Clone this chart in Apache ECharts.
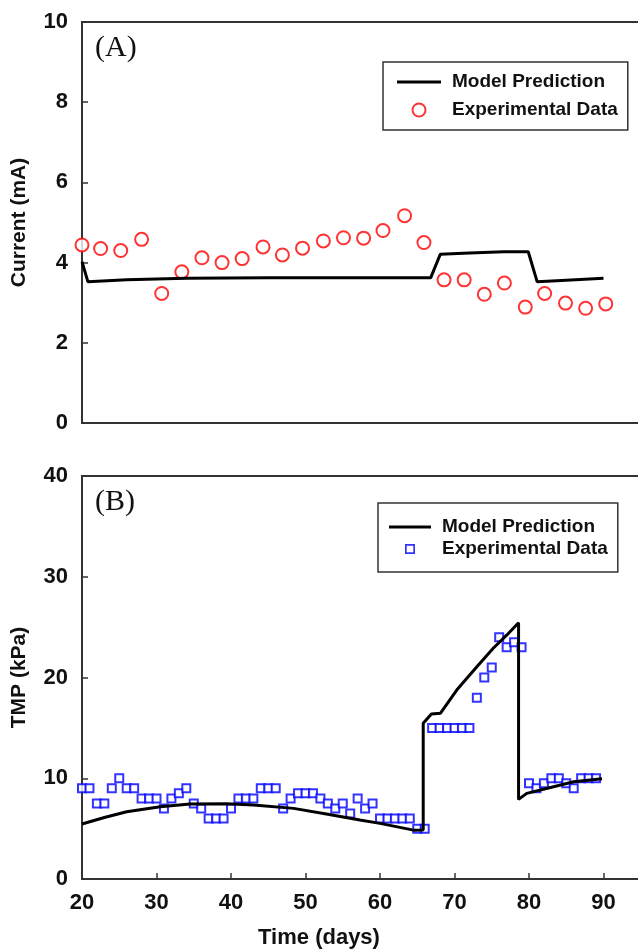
<!DOCTYPE html>
<html>
<head>
<meta charset="utf-8">
<script src="https://cdn.jsdelivr.net/npm/echarts@6/dist/echarts.min.js"></script>
<style>
  html, body { margin: 0; padding: 0; background: #fff; }
  #chart { width: 638px; height: 952px; }
</style>
</head>
<body>
<div id="chart"></div>
<script>
// panel A: current
var currentDays = [20, 22.5, 25.2, 28, 30.7, 33.4, 36.1, 38.8, 41.5, 44.3, 46.9, 49.6, 52.4, 55.1,
  57.8, 60.4, 63.3, 65.9, 68.6, 71.3, 74, 76.7, 79.5, 82.1, 84.9, 87.6, 90.3]
var currentExp = [4.44, 4.35, 4.30, 4.58, 3.23, 3.77, 4.12, 4.00, 4.10, 4.39, 4.19, 4.36, 4.54, 4.62,
  4.61, 4.80, 5.17, 4.50, 3.57, 3.57, 3.21, 3.49, 2.89, 3.23, 2.99, 2.86, 2.97]
var currentModelDays = [20, 20.8, 26, 34, 45, 55, 66.8, 68.1, 72, 76.6, 79.9, 81.1, 85, 90]
var currentModel = [4.02, 3.52, 3.57, 3.61, 3.62, 3.62, 3.62, 4.21, 4.24, 4.27, 4.27, 3.52, 3.56, 3.61]

// panel B: TMP
var tmpDays = []
for (var d = 20; d <= 89; d++) tmpDays.push(d)
var tmpExp = [9, 9, 7.5, 7.5, 9, 10, 9, 9, 8, 8,
  8, 7, 8, 8.5, 9, 7.5, 7, 6, 6, 6,
  7, 8, 8, 8, 9, 9, 9, 7, 8, 8.5,
  8.5, 8.5, 8, 7.5, 7, 7.5, 6.5, 8, 7, 7.5,
  6, 6, 6, 6, 6, 5, 5, 15, 15, 15,
  15, 15, 15, 18, 20, 21, 24, 23, 23.5, 23,
  9.5, 9, 9.5, 10, 10, 9.5, 9, 10, 10, 10]
var tmpModelDays = [20, 23, 26, 30.5, 34.5, 39.4, 43, 48.4, 52.8, 57.3, 60, 64.5, 65.8,
  65.8, 66.9, 68.1, 70.3, 73, 75.2, 77, 78.6, 78.6, 79.7, 83.3, 86, 89.8]
var tmpModel = [5.46, 6.1, 6.68, 7.17, 7.44, 7.46, 7.34, 7.01, 6.45, 5.85, 5.52, 4.85, 4.86,
  15.45, 16.37, 16.44, 18.75, 21.06, 22.9, 24.2, 25.43, 7.9, 8.5, 9.16, 9.65, 9.95]

var currentTicks = [0, 2, 4, 6, 8, 10]
var tmpTicks = [0, 10, 20, 30, 40]

function pairs(xs, ys) {
  return xs.map(function (x, i) { return [x, ys[i]] })
}

var chart = echarts.init(document.getElementById('chart'))
var font = 'Liberation Sans, Arial, sans-serif'
var axisColor = '#333'
// legend icons: a thick line sample and a hollow square
var lineIcon = 'path://M0,0 H44 V3 H0 Z'
var squareIcon = 'path://M0,0 H10 V10 H0 Z M1.7,1.7 V8.3 H8.3 V1.7 Z'

function xAxisOpt(idx, labels) {
  return {
    type: 'value', gridIndex: idx, min: 20, max: 100, interval: 10,
    axisLine: { lineStyle: { color: axisColor, width: 2 } },
    axisTick: { show: labels, inside: true, length: 6, lineStyle: { color: axisColor, width: 1.5 } },
    axisLabel: {
      show: labels, margin: 13, color: '#111', fontFamily: font, fontWeight: 'bold', fontSize: 22,
      showMaxLabel: false
    },
    splitLine: { show: false }
  }
}
function yAxisOpt(idx, ticks, name) {
  return {
    type: 'value', gridIndex: idx, min: ticks[0], max: ticks[ticks.length - 1],
    interval: ticks[1] - ticks[0],
    name: name, nameLocation: 'middle', nameGap: 52, nameRotate: 90,
    nameTextStyle: { color: '#111', fontFamily: font, fontWeight: 'bold', fontSize: 21 },
    axisLine: { lineStyle: { color: axisColor, width: 2 } },
    axisTick: { inside: true, length: 6, lineStyle: { color: axisColor, width: 1.5 } },
    axisLabel: { margin: 14, color: '#111', fontFamily: font, fontWeight: 'bold', fontSize: 22 },
    splitLine: { show: false }
  }
}

chart.setOption({
  animation: false,
  grid: [
    { left: 82, width: 596, top: 22, height: 401, outerBoundsMode: 'none', containLabel: false,
      show: true, borderColor: axisColor, borderWidth: 2 },
    { left: 82, width: 596, top: 476, height: 403, outerBoundsMode: 'none', containLabel: false,
      show: true, borderColor: axisColor, borderWidth: 2 }
  ],
  xAxis: [xAxisOpt(0, false), xAxisOpt(1, true)],
  yAxis: [yAxisOpt(0, currentTicks, 'Current (mA)'), yAxisOpt(1, tmpTicks, 'TMP (kPa)')],
  legend: [
    {
      data: [
        { name: 'Model Prediction', icon: lineIcon, itemStyle: { color: '#000', borderWidth: 0 } },
        { name: 'Experimental Data' }
      ],
      orient: 'vertical', left: 383, top: 62,
      padding: [10, 10, 10, 14], itemGap: 8,
      itemWidth: 44, itemHeight: 13,
      borderColor: '#333', borderWidth: 1.5,
      textStyle: { color: '#111', fontFamily: font, fontWeight: 'bold', fontSize: 19, lineHeight: 20, padding: [0, 0, 0, 6] }
    },
    {
      data: [
        { name: 'Model Prediction B', icon: lineIcon, itemStyle: { color: '#000', borderWidth: 0 } },
        { name: 'Experimental Data B', icon: squareIcon, itemStyle: { color: '#0000ff', borderWidth: 0 } }
      ],
      orient: 'vertical', left: 378, top: 503,
      padding: [14, 10, 13, 11], itemGap: 2,
      itemWidth: 42, itemHeight: 10,
      borderColor: '#333', borderWidth: 1.5,
      formatter: function (n) { return n.replace(' B', '') },
      textStyle: { color: '#111', fontFamily: font, fontWeight: 'bold', fontSize: 19, lineHeight: 20, padding: [0, 0, 0, 6] }
    }
  ],
  graphic: [
    { type: 'text', left: 95, top: 33, style: { text: '(A)', font: '30px "Liberation Serif", serif', fill: '#111' } },
    { type: 'text', left: 95, top: 487, style: { text: '(B)', font: '30px "Liberation Serif", serif', fill: '#111' } },
    { type: 'text', left: 'center', top: 927, style: { text: 'Time (days)', font: 'bold 22px "Liberation Sans", Arial, sans-serif', fill: '#111' } }
  ],
  series: [
    {
      name: 'Model Prediction', type: 'line', xAxisIndex: 0, yAxisIndex: 0,
      data: pairs(currentModelDays, currentModel), symbol: 'none',
      lineStyle: { color: '#000', width: 3 }, itemStyle: { color: '#000' }
    },
    {
      name: 'Experimental Data', type: 'scatter', xAxisIndex: 0, yAxisIndex: 0,
      data: pairs(currentDays, currentExp), symbol: 'emptyCircle', symbolSize: 13,
      itemStyle: { color: '#ff0000', borderColor: '#ff0000', borderWidth: 1.5 }
    },
    {
      name: 'Model Prediction B', type: 'line', xAxisIndex: 1, yAxisIndex: 1,
      data: pairs(tmpModelDays, tmpModel), symbol: 'none',
      lineStyle: { color: '#000', width: 3 }, itemStyle: { color: '#000' }
    },
    {
      name: 'Experimental Data B', type: 'scatter', xAxisIndex: 1, yAxisIndex: 1,
      data: pairs(tmpDays, tmpExp), symbol: 'emptyRect', symbolSize: 8,
      itemStyle: { color: '#0000ff', borderColor: '#0000ff', borderWidth: 1.5 }
    }
  ]
})
</script>
</body>
</html>
